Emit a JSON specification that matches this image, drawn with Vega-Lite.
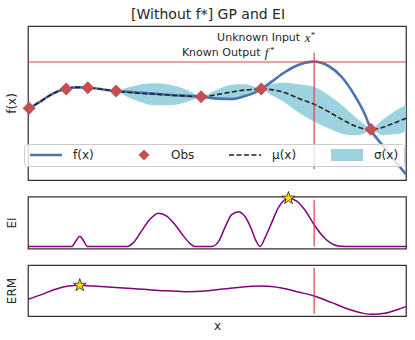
{
  "$schema": "https://vega.github.io/schema/vega-lite/v6.json",
  "padding": {"left": 4, "top": 8, "right": 4, "bottom": 4},
  "title": {"text": "[Without f*] GP and EI", "anchor": "middle", "fontSize": 14, "font": "DejaVu Sans", "fontWeight": "normal", "color": "#262626", "offset": 3},
  "config": {"view": {"stroke": "#333333", "strokeWidth": 1.25}},
  "bounds": "flush",
  "spacing": 16.5,
  "vconcat": [
    {
      "width": 378,
      "height": 154,
      "layer": [
        {
          "data": {"values": [
            {"x": 0, "lo": 2.13, "hi": 2.13}, {"x": 0.28, "lo": 2.30, "hi": 2.34}, {"x": 0.55, "lo": 2.50, "hi": 2.54},
            {"x": 0.81, "lo": 2.66, "hi": 2.68}, {"x": 1.01, "lo": 2.73, "hi": 2.73}, {"x": 1.25, "lo": 2.77, "hi": 2.79},
            {"x": 1.47, "lo": 2.78, "hi": 2.78}, {"x": 1.69, "lo": 2.75, "hi": 2.77}, {"x": 1.96, "lo": 2.70, "hi": 2.74},
            {"x": 2.33, "lo": 2.67, "hi": 2.67}, {"x": 2.57, "lo": 2.53, "hi": 2.75}, {"x": 2.84, "lo": 2.39, "hi": 2.83},
            {"x": 3.10, "lo": 2.29, "hi": 2.89}, {"x": 3.45, "lo": 2.24, "hi": 2.90}, {"x": 3.81, "lo": 2.24, "hi": 2.84},
            {"x": 4.07, "lo": 2.30, "hi": 2.76}, {"x": 4.33, "lo": 2.39, "hi": 2.63}, {"x": 4.58, "lo": 2.50, "hi": 2.50},
            {"x": 4.78, "lo": 2.45, "hi": 2.59}, {"x": 5.04, "lo": 2.41, "hi": 2.73}, {"x": 5.39, "lo": 2.42, "hi": 2.86},
            {"x": 5.74, "lo": 2.53, "hi": 2.87}, {"x": 6.01, "lo": 2.65, "hi": 2.79}, {"x": 6.17, "lo": 2.73, "hi": 2.73},
            {"x": 6.45, "lo": 2.54, "hi": 2.88}, {"x": 6.80, "lo": 2.32, "hi": 2.92}, {"x": 7.15, "lo": 2.03, "hi": 2.87},
            {"x": 7.57, "lo": 1.75, "hi": 2.79}, {"x": 7.95, "lo": 1.55, "hi": 2.55}, {"x": 8.30, "lo": 1.39, "hi": 2.25},
            {"x": 8.65, "lo": 1.34, "hi": 1.90}, {"x": 8.92, "lo": 1.41, "hi": 1.65}, {"x": 9.07, "lo": 1.52, "hi": 1.52},
            {"x": 9.36, "lo": 1.35, "hi": 1.79}, {"x": 9.71, "lo": 1.37, "hi": 2.07}, {"x": 10.0, "lo": 1.45, "hi": 2.25}
          ]},
          "mark": {"type": "area", "color": "#9dd2df", "interpolate": "monotone", "opacity": 1},
          "encoding": {
            "x": {"field": "x", "type": "quantitative", "scale": {"domain": [0, 10], "nice": false}, "axis": null},
            "y": {"field": "lo", "type": "quantitative", "scale": {"domain": [0, 4.62], "nice": false},
                  "axis": {"title": "f(x)", "labels": false, "ticks": false, "domain": false, "grid": false, "titlePadding": 10, "titleFont": "DejaVu Sans", "titleFontSize": 12, "titleFontWeight": "normal", "titleColor": "#262626"}},
            "y2": {"field": "hi"}
          }
        },
        {
          "data": {"values": [
            {"x": 0, "f": 2.13}, {"x": 0.28, "f": 2.32}, {"x": 0.55, "f": 2.52}, {"x": 0.81, "f": 2.67},
            {"x": 1.01, "f": 2.73}, {"x": 1.25, "f": 2.78}, {"x": 1.47, "f": 2.78}, {"x": 1.69, "f": 2.76},
            {"x": 1.96, "f": 2.72}, {"x": 2.33, "f": 2.67}, {"x": 2.57, "f": 2.65}, {"x": 2.84, "f": 2.63},
            {"x": 3.10, "f": 2.61}, {"x": 3.45, "f": 2.58}, {"x": 3.81, "f": 2.55}, {"x": 4.07, "f": 2.53},
            {"x": 4.33, "f": 2.52}, {"x": 4.58, "f": 2.50}, {"x": 4.78, "f": 2.47}, {"x": 5.04, "f": 2.44},
            {"x": 5.39, "f": 2.43}, {"x": 5.74, "f": 2.52}, {"x": 6.01, "f": 2.63}, {"x": 6.17, "f": 2.73},
            {"x": 6.45, "f": 2.95}, {"x": 6.80, "f": 3.24}, {"x": 7.15, "f": 3.45}, {"x": 7.57, "f": 3.55},
            {"x": 7.95, "f": 3.42}, {"x": 8.30, "f": 3.09}, {"x": 8.65, "f": 2.52}, {"x": 8.92, "f": 1.95},
            {"x": 9.07, "f": 1.52}, {"x": 9.36, "f": 1.07}, {"x": 9.71, "f": 0.57}, {"x": 10.0, "f": 0.17}
          ]},
          "mark": {"type": "line", "color": "#4c72b0", "strokeWidth": 2.6, "interpolate": "monotone"},
          "encoding": {
            "x": {"field": "x", "type": "quantitative"},
            "y": {"field": "f", "type": "quantitative"}
          }
        },
        {
          "data": {"values": [
            {"x": 0, "mu": 2.13}, {"x": 0.28, "mu": 2.32}, {"x": 0.55, "mu": 2.52}, {"x": 0.81, "mu": 2.67},
            {"x": 1.01, "mu": 2.73}, {"x": 1.25, "mu": 2.78}, {"x": 1.47, "mu": 2.78}, {"x": 1.69, "mu": 2.76},
            {"x": 1.96, "mu": 2.72}, {"x": 2.33, "mu": 2.67}, {"x": 2.57, "mu": 2.64}, {"x": 2.84, "mu": 2.61},
            {"x": 3.10, "mu": 2.59}, {"x": 3.45, "mu": 2.57}, {"x": 3.81, "mu": 2.54}, {"x": 4.07, "mu": 2.53},
            {"x": 4.33, "mu": 2.51}, {"x": 4.58, "mu": 2.50}, {"x": 4.78, "mu": 2.52}, {"x": 5.04, "mu": 2.57},
            {"x": 5.39, "mu": 2.64}, {"x": 5.74, "mu": 2.70}, {"x": 6.01, "mu": 2.72}, {"x": 6.17, "mu": 2.73},
            {"x": 6.45, "mu": 2.71}, {"x": 6.80, "mu": 2.62}, {"x": 7.15, "mu": 2.45}, {"x": 7.57, "mu": 2.27},
            {"x": 7.95, "mu": 2.05}, {"x": 8.30, "mu": 1.82}, {"x": 8.65, "mu": 1.62}, {"x": 8.92, "mu": 1.53},
            {"x": 9.07, "mu": 1.52}, {"x": 9.36, "mu": 1.57}, {"x": 9.71, "mu": 1.72}, {"x": 10.0, "mu": 1.85}
          ]},
          "mark": {"type": "line", "color": "#222222", "strokeWidth": 1.6, "strokeDash": [5, 2.5], "interpolate": "monotone"},
          "encoding": {
            "x": {"field": "x", "type": "quantitative"},
            "y": {"field": "mu", "type": "quantitative"}
          }
        },
        {
          "data": {"values": [{"fstar": 3.54}]},
          "mark": {"type": "rule", "color": "#d64545", "strokeWidth": 1.2},
          "encoding": {"y": {"field": "fstar", "type": "quantitative"}}
        },
        {
          "data": {"values": [{"xstar": 7.57}]},
          "mark": {"type": "rule", "color": "#d64545", "strokeWidth": 1.2},
          "encoding": {"x": {"field": "xstar", "type": "quantitative"}, "y": {"datum": 0.32}, "y2": {"datum": 3.82}}
        },
        {
          "data": {"values": [
            {"x": 0.03, "y": 2.15, "s": "Obs"}, {"x": 1.01, "y": 2.73, "s": "Obs"}, {"x": 1.58, "y": 2.77, "s": "Obs"},
            {"x": 2.33, "y": 2.67, "s": "Obs"}, {"x": 4.58, "y": 2.50, "s": "Obs"}, {"x": 6.17, "y": 2.73, "s": "Obs"},
            {"x": 9.07, "y": 1.52, "s": "Obs"}
          ]},
          "mark": {"type": "point", "filled": true, "size": 169, "opacity": 1, "strokeWidth": 0},
          "encoding": {
            "x": {"field": "x", "type": "quantitative"},
            "y": {"field": "y", "type": "quantitative"},
            "shape": {
              "field": "s", "type": "nominal",
              "scale": {"domain": ["f(x)", "Obs", "μ(x)", "σ(x)"], "range": [
                "M-2.91,-0.24H2.91V0.24H-2.91Z",
                "M0,-1L1,0L0,1L-1,0Z",
                "M-2.91,-0.145H-2.0V0.145H-2.91Z M-1.545,-0.145H-0.635V0.145H-1.545Z M-0.18,-0.145H0.73V0.145H-0.18Z M1.185,-0.145H2.095V0.145H1.185Z M2.55,-0.145H2.91V0.145H2.55Z",
                "M-2.91,-1.09H2.91V1.09H-2.91Z"
              ]}
            },
            "color": {
              "field": "s", "type": "nominal",
              "scale": {"domain": ["f(x)", "Obs", "μ(x)", "σ(x)"], "range": ["#4c72b0", "#c44e52", "#222222", "#9dd2df"]},
              "legend": {
                "orient": "none", "legendX": -4, "legendY": 118, "direction": "horizontal", "title": null,
                "symbolSize": 121, "symbolOffset": 11, "symbolStrokeWidth": 0,
                "labelFontSize": 12, "labelFont": "DejaVu Sans", "labelColor": "#262626", "labelOffset": 21,
                "columnPadding": 33, "padding": 5,
                "fillColor": "rgba(255,255,255,0.8)", "strokeColor": "#cccccc", "cornerRadius": 3
              }
            }
          }
        },
        {
          "data": {"values": [{"label": "Unknown Input", "x": 7.2, "y": 4.27}, {"label": "Known Output", "x": 6.15, "y": 3.82}]},
          "mark": {"type": "text", "align": "right", "baseline": "middle", "font": "DejaVu Sans", "fontSize": 11, "color": "#262626"},
          "encoding": {"x": {"field": "x", "type": "quantitative"}, "y": {"field": "y", "type": "quantitative"}, "text": {"field": "label"}}
        },
        {
          "data": {"values": [{"label": "x", "x": 7.40, "y": 4.26}, {"label": "f", "x": 6.31, "y": 3.82}]},
          "mark": {"type": "text", "align": "center", "baseline": "middle", "font": "Liberation Serif", "fontStyle": "italic", "fontSize": 13, "color": "#262626"},
          "encoding": {"x": {"field": "x", "type": "quantitative"}, "y": {"field": "y", "type": "quantitative"}, "text": {"field": "label"}}
        },
        {
          "data": {"values": [{"label": "*", "x": 7.54, "y": 4.35}, {"label": "*", "x": 6.46, "y": 3.91}]},
          "mark": {"type": "text", "align": "center", "baseline": "middle", "font": "Liberation Serif", "fontSize": 9, "color": "#262626"},
          "encoding": {"x": {"field": "x", "type": "quantitative"}, "y": {"field": "y", "type": "quantitative"}, "text": {"field": "label"}}
        }
      ]
    },
    {
      "width": 378,
      "height": 52,
      "layer": [
        {
          "data": {"values": [
            {"x": 0, "v": 0}, {"x": 1.07, "v": 0}, {"x": 1.16, "v": 0}, {"x": 1.27, "v": 0.12},
            {"x": 1.37, "v": 0.21}, {"x": 1.47, "v": 0.12}, {"x": 1.57, "v": 0}, {"x": 2.62, "v": 0},
            {"x": 2.79, "v": 0.08}, {"x": 3.01, "v": 0.33}, {"x": 3.23, "v": 0.57}, {"x": 3.45, "v": 0.69},
            {"x": 3.67, "v": 0.63}, {"x": 3.89, "v": 0.45}, {"x": 4.11, "v": 0.22}, {"x": 4.29, "v": 0.06},
            {"x": 4.42, "v": 0}, {"x": 4.86, "v": 0}, {"x": 5.04, "v": 0.10}, {"x": 5.22, "v": 0.41},
            {"x": 5.39, "v": 0.66}, {"x": 5.57, "v": 0.72}, {"x": 5.74, "v": 0.62}, {"x": 5.90, "v": 0.38},
            {"x": 6.03, "v": 0.12}, {"x": 6.14, "v": 0}, {"x": 6.27, "v": 0.18}, {"x": 6.45, "v": 0.50},
            {"x": 6.62, "v": 0.80}, {"x": 6.89, "v": 1.0}, {"x": 7.11, "v": 0.94}, {"x": 7.33, "v": 0.75},
            {"x": 7.57, "v": 0.45}, {"x": 7.77, "v": 0.24}, {"x": 7.99, "v": 0.08}, {"x": 8.21, "v": 0.01},
            {"x": 8.39, "v": 0}, {"x": 10, "v": 0}
          ]},
          "mark": {"type": "line", "color": "#800080", "strokeWidth": 1.5, "interpolate": "monotone"},
          "encoding": {
            "x": {"field": "x", "type": "quantitative", "scale": {"domain": [0, 10], "nice": false}, "axis": null},
            "y": {"field": "v", "type": "quantitative", "scale": {"domain": [-0.041, 1.035], "nice": false},
                  "axis": {"title": "EI", "labels": false, "ticks": false, "domain": false, "grid": false, "titlePadding": 10, "titleFont": "DejaVu Sans", "titleFontSize": 12, "titleFontWeight": "normal", "titleColor": "#262626"}}
          }
        },
        {
          "data": {"values": [{"xstar": 7.57}]},
          "mark": {"type": "rule", "color": "#d64545", "strokeWidth": 1.2},
          "encoding": {"x": {"field": "xstar", "type": "quantitative"}, "y": {"datum": 0}, "y2": {"datum": 0.967}}
        },
        {
          "data": {"values": [{"x": 6.89, "v": 1.0}]},
          "mark": {"type": "point", "shape": "M0,-1L0.225,-0.309L0.951,-0.309L0.363,0.118L0.588,0.809L0,0.382L-0.588,0.809L-0.363,0.118L-0.951,-0.309L-0.225,-0.309Z", "filled": true, "size": 180, "color": "#ffd700", "stroke": "#222222", "strokeWidth": 0.8, "opacity": 1},
          "encoding": {
            "x": {"field": "x", "type": "quantitative"},
            "y": {"field": "v", "type": "quantitative"}
          }
        }
      ]
    },
    {
      "width": 378,
      "height": 51,
      "layer": [
        {
          "data": {"values": [
            {"x": 0, "v": 0.50}, {"x": 0.37, "v": 0.65}, {"x": 0.72, "v": 0.80}, {"x": 1.07, "v": 0.90},
            {"x": 1.37, "v": 0.92}, {"x": 1.69, "v": 0.90}, {"x": 2.13, "v": 0.87}, {"x": 2.84, "v": 0.82},
            {"x": 3.54, "v": 0.76}, {"x": 4.16, "v": 0.73}, {"x": 4.78, "v": 0.76}, {"x": 5.48, "v": 0.85},
            {"x": 6.19, "v": 0.90}, {"x": 6.71, "v": 0.84}, {"x": 7.15, "v": 0.72}, {"x": 7.57, "v": 0.60},
            {"x": 8.04, "v": 0.40}, {"x": 8.48, "v": 0.20}, {"x": 8.83, "v": 0.09}, {"x": 9.09, "v": 0.05},
            {"x": 9.44, "v": 0.08}, {"x": 9.80, "v": 0.20}, {"x": 10, "v": 0.28}
          ]},
          "mark": {"type": "line", "color": "#800080", "strokeWidth": 1.5, "interpolate": "monotone"},
          "encoding": {
            "x": {"field": "x", "type": "quantitative", "scale": {"domain": [0, 10], "nice": false},
                  "axis": {"title": "x", "labels": false, "ticks": false, "domain": false, "grid": false, "titlePadding": 4, "titleFont": "DejaVu Sans", "titleFontSize": 12, "titleFontWeight": "normal", "titleColor": "#262626"}},
            "y": {"field": "v", "type": "quantitative", "scale": {"domain": [0, 1.53], "nice": false},
                  "axis": {"title": "ERM", "labels": false, "ticks": false, "domain": false, "grid": false, "titlePadding": 10, "titleFont": "DejaVu Sans", "titleFontSize": 12, "titleFontWeight": "normal", "titleColor": "#262626"}}
          }
        },
        {
          "data": {"values": [{"xstar": 7.57}]},
          "mark": {"type": "rule", "color": "#d64545", "strokeWidth": 1.2},
          "encoding": {"x": {"field": "xstar", "type": "quantitative"}, "y": {"datum": 0.07}, "y2": {"datum": 1.45}}
        },
        {
          "data": {"values": [{"x": 1.37, "v": 0.92}]},
          "mark": {"type": "point", "shape": "M0,-1L0.225,-0.309L0.951,-0.309L0.363,0.118L0.588,0.809L0,0.382L-0.588,0.809L-0.363,0.118L-0.951,-0.309L-0.225,-0.309Z", "filled": true, "size": 180, "color": "#ffd700", "stroke": "#222222", "strokeWidth": 0.8, "opacity": 1},
          "encoding": {
            "x": {"field": "x", "type": "quantitative"},
            "y": {"field": "v", "type": "quantitative"}
          }
        }
      ]
    }
  ]
}
